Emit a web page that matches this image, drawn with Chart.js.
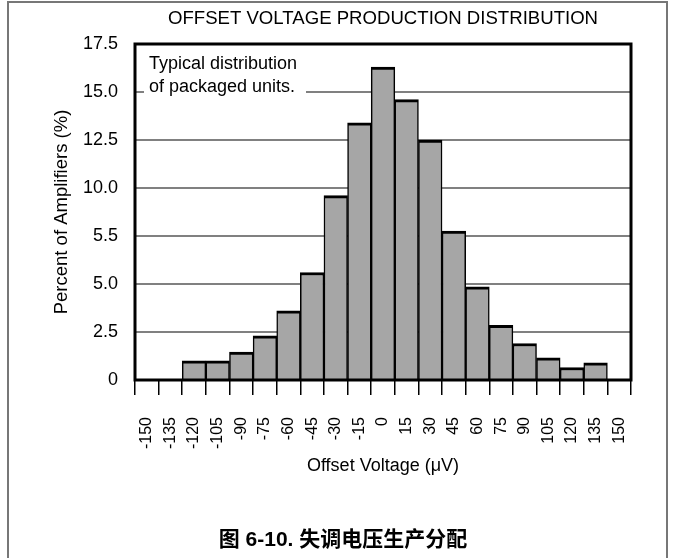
<!DOCTYPE html>
<html>
<head>
<meta charset="utf-8">
<script src="https://cdn.jsdelivr.net/npm/chart.js@4/dist/chart.umd.min.js"></script>
<style>
  html, body { margin: 0; padding: 0; background: #fff; }
</style>
</head>
<body>
<canvas id="hist" width="676" height="558"></canvas>
<script>
// データ
const categories = ['-150', '-135', '-120', '-105', '-90', '-75', '-60', '-45', '-30', '-15', '0',
  '15', '30', '45', '60', '75', '90', '105', '120', '135', '150'];
const percentValues = [0, 0, 1.0, 1.0, 1.45, 2.3, 3.6, 5.6, 9.6, 13.4, 16.3,
  14.6, 12.5, 7.75, 4.85, 2.85, 1.9, 1.15, 0.65, 0.9, 0];
// 元の図のラベルそのまま（7.5 の位置が "5.5" になっている）
const yTickLabels = ['0', '2.5', '5.0', '5.5', '10.0', '12.5', '15.0', '17.5'];

const chartTitle = 'OFFSET VOLTAGE PRODUCTION DISTRIBUTION';
const noteLines = ['Typical distribution', 'of packaged units.'];
const caption = '图 6-10. 失调电压生产分配';

Chart.defaults.font.family = '"Liberation Sans", Arial, sans-serif';
Chart.defaults.color = '#000';

// 枠・タイトル・注記を描くプラグイン
const decor = {
  id: 'decor',
  beforeDatasetsDraw(chart) {
    const c = chart.ctx;
    const a = chart.chartArea;
    c.save();
    c.fillStyle = '#fff';
    c.fillRect(a.left + 9, a.top + 3, 162, 55);
    c.fillStyle = '#000';
    c.font = '18px "Liberation Sans", Arial, sans-serif';
    c.textAlign = 'left';
    c.textBaseline = 'alphabetic';
    c.fillText(noteLines[0], a.left + 14, a.top + 25);
    c.fillText(noteLines[1], a.left + 14, a.top + 48);
    c.restore();
  },
  afterDraw(chart) {
    const c = chart.ctx;
    const a = chart.chartArea;
    c.save();
    // プロット枠
    c.strokeStyle = '#000';
    c.lineWidth = 3;
    c.strokeRect(a.left, a.top, a.right - a.left, a.bottom - a.top);
    // ページ枠
    c.strokeStyle = '#777';
    c.lineWidth = 2;
    c.beginPath();
    c.moveTo(8, 558);
    c.lineTo(8, 2);
    c.lineTo(667, 2);
    c.lineTo(667, 558);
    c.stroke();
    // タイトル
    c.fillStyle = '#000';
    c.textAlign = 'center';
    c.textBaseline = 'middle';
    c.font = '18.6px "Liberation Sans", Arial, sans-serif';
    c.fillText(chartTitle, (a.left + a.right) / 2, 19);
    // 図番号
    c.font = 'bold 21px "Liberation Sans", "Noto Sans CJK SC", sans-serif';
    c.fillText(caption, 343, 540);
    c.restore();
  }
};

const hist = new Chart(document.getElementById('hist'), {
  type: 'bar',
  data: {
    labels: categories,
    datasets: [{
      data: percentValues,
      backgroundColor: '#a6a6a6',
      borderColor: '#000',
      borderWidth: { top: 3, left: 1.5, right: 1.5, bottom: 0 },
      borderSkipped: false,
      barPercentage: 1,
      categoryPercentage: 1
    }]
  },
  options: {
    responsive: false,
    animation: false,
    layout: { padding: { top: 44, left: 50, right: 45, bottom: 78 } },
    plugins: {
      legend: { display: false },
      tooltip: { enabled: false },
      title: { display: false }
    },
    scales: {
      x: {
        offset: true,
        grid: {
          offset: true,
          drawOnChartArea: false,
          drawTicks: true,
          tickLength: 15,
          color: '#000',
          lineWidth: 1.5
        },
        border: { display: false },
        ticks: {
          minRotation: 90,
          maxRotation: 90,
          autoSkip: false,
          padding: 22,
          font: { size: 16 }
        },
        title: {
          display: true,
          text: 'Offset Voltage (μV)',
          font: { size: 18 },
          padding: { top: 0, bottom: 3 }
        },
        afterFit(s) { s.height = 100; }
      },
      y: {
        min: 0,
        max: 17.5,
        grid: {
          drawTicks: false,
          color: '#808080',
          lineWidth: 2
        },
        border: { display: false },
        ticks: {
          stepSize: 2.5,
          padding: 17,
          font: { size: 18 },
          callback: (v, i) => yTickLabels[i]
        },
        title: {
          display: true,
          text: 'Percent of Amplifiers (%)',
          font: { size: 18.5 },
          padding: { top: 1, bottom: 0 }
        },
        afterFit(s) { s.width = 85; }
      }
    }
  },
  plugins: [decor]
});
</script>
</body>
</html>
